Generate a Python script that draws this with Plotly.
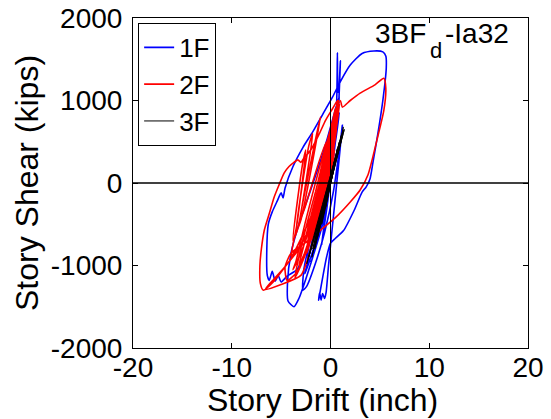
import plotly.graph_objects as go

# ---- data ----
drift_1f = [0.0, 0.3, -0.1, -0.6, -0.2, 0.5, 0.2, -0.9, -0.4, 0.6, 0.7, 0.75, 0.85, 1.0, 0.8,
            0.2, -0.8, -1.8, -2.6, -3.2, -3.7, -4.3, -4.35, -4.0, -3.2, -2.2, -1.2, -0.3, 0.4,
            0.9, 0.6, -0.4, -1.4, -2.4, -3.4, -4.4, -5.0, -5.3, -5.6, -5.9, -6.2, -6.4, -6.45,
            -6.3, -5.9, -5.4, -5.0, -4.8, -4.6, -3.8, -2.8, -1.8, -0.8, 0.2, 1.0, 2.0, 3.2,
            4.4, 5.3, 5.6, 5.65, 5.3, 4.8, 4.3, 4.0, 3.6, 3.2, 2.4, 1.3, 0.5, 0.0, -0.4, -0.8,
            -1.1, -1.2, -1.1, -0.95, -0.8, -0.6, -0.45, -0.2, 0.3, 0.8, 1.2, 1.0, 0.3, -0.6,
            -1.6, -2.4, -2.8, -2.7, -2.0, -1.0, 0.0, 0.6, 0.9, 0.5, -0.3, -1.2, -2.0, -2.3,
            -1.9, -1.0, -0.2, 0.4, 0.1, -0.5, -2.0, -2.6, -2.3, -1.0, 0.2, 0.6, 0.3, -0.6,
            -1.6, -1.4, -0.4, 0.5, 0.2, -1.0, -0.6, 0.0]
shear_1f = [0, 350, 50, -500, -150, 650, 300, -750, -300, 900, 1580, 1100, 1150, 1480, 900,
            200, -500, -900, -1200, -1400, -1500, -1430, -1200, -850, -500, -150, 200, 550, 850,
            1050, 750, 50, -450, -800, -1050, -1130, -1200, -1120, -1190, -1070, -1180, -1120, -800,
            -500, -350, -220, -120, -180, -60, 200, 430, 620, 830, 1040, 1230, 1430, 1570,
            1600, 1590, 1540, 1400, 1000, 600, 250, 50, -50, -110, -330, -580, -670, -730, -900, -1150,
            -1350, -1420, -1330, -1420, -1340, -1400, -1330, -1000, -400, 200, 700, 500, -100, -600,
            -1000, -1250, -1300, -1050, -650, -150, 350, 700, 850, 500, -100, -600, -950, -900,
            -550, -100, 300, 550, 300, -300, -900, -1100, -950, -200, 500, 900, 700, 0,
            -700, -600, 100, 700, 500, -500, -250, 0]

drift_2f = [0.0, 0.4, 0.1, -0.8, -0.4, 0.6, 0.3, -1.3, -0.8, 0.8, 0.5, -1.8, -1.3, 0.9, 0.6,
            -2.4, -2.0, 1.0, 1.2, 2.0, 3.0, 4.5, 5.4, 5.6, 5.4, 4.7, 3.8, 3.0, 2.0, 0.5, -1.0,
            -2.5, -4.0, -4.6, -4.4, -3.4, -2.2, -1.0, 0.0, 0.8, 0.4, -0.8, -2.0, -3.2, -4.5,
            -5.8, -6.8, -7.1, -7.15, -7.0, -6.7, -6.2, -5.7, -5.2, -4.7, -4.2, -3.7, -3.3, -3.0,
            -2.7, -2.0, -1.2, -0.5, 0.2, 0.7, 0.4, -0.5, -1.5, -2.5, -4.5, -6.0, -6.6, -5.0,
            -3.0, -2.0, -1.0, -0.2, 0.5, 0.9, 0.6, -0.3, -1.2, -2.2, -3.0, -3.6, -3.3, -2.4,
            -1.5, -0.6, 0.2, 0.6, 0.3, -0.6, -1.6, -2.4, -2.2, -1.4, -0.6, 0.1, 0.5, 0.2, -0.6,
            -2.8, -3.2, -2.9, -1.5, -0.2, 0.5, 0.3, -0.8, -2.0, -3.0, -3.8, -3.5, -2.5, -1.2,
            0.0, 0.8, 0.5, -0.5, -1.8, -2.6, -2.3, -1.0, 0.3, 0.6, 0.2, -1.0, -2.0, -1.7, -0.6,
            0.3, -1.0, -2.5, -4.0, -3.4, -2.5, -2.8, -3.8, -3.3, -1.8, -2.2, -3.5, -3.0, -1.0,
            -1.3, -3.2, -2.6, -0.4, 0.0]
shear_2f = [0, 400, 150, -400, -150, 650, 400, -550, -250, 850, 600, -700, -400, 950, 700,
            -800, -500, 1000, 920, 1000, 1090, 1190, 1270, 1150, 880, 520, 100, -85, -230, -420, -570,
            -720, -850, -1020, -1180, -1080, -700, -200, 400, 850, 600, -100, -500, -800, -1000,
            -1200, -1300, -1220, -1000, -800, -570, -370, -170, -20, 120, 200, 250, 280, 250,
            300, 400, 580, 760, 900, 1000, 800, 250, -250, -650, -1000, -1200, -1290, -1230,
            -1120, -800, -300, 200, 700, 950, 750, 200, -350, -750, -1000, -1150, -950, -500,
            -100, 350, 750, 900, 650, 50, -500, -850, -650, -250, 150, 550, 750, 500, -300,
            -900, -1000, -850, -200, 500, 900, 800, 100, -500, -850, -1050, -950, -450, 150,
            650, 1000, 850, 200, -450, -700, -550, 50, 650, 800, 550, -150, -500, -350, 200,
            600, -100, -550, -900, -500, 400, 250, -700, -550, 600, 450, -600, -450, 800,
            650, -500, -300, 500, 0]

drift_3f = [0.0, 0.4, 0.2, -0.5, -0.3, 0.7, 0.4, -0.9, -0.6, 0.9, 0.6, -1.3, -1.0, 1.1, 0.8,
            -1.6, -1.3, 1.2, 1.3, 1.0, -1.9, -1.5, 1.4, 1.1, -2.4, -2.0, 1.3, 1.0, -2.2, -1.8,
            1.1, 0.8, -1.8, -1.4, 0.9, 0.6, -1.4, -1.0, 0.7, 0.4, -0.9, -0.6, 0.4, 0.1, -0.3, 0.0]
shear_3f = [0, 250, 120, -300, -180, 380, 220, -500, -350, 480, 320, -650, -500, 560, 400,
            -800, -620, 620, 680, 480, -900, -700, 650, 520, -980, -780, 640, 470, -900, -720,
            580, 420, -800, -600, 500, 340, -650, -480, 420, 250, -450, -300, 250, 100, -150, 0]

series_names = ["1F", "2F", "3F"]
series_colors = ["#0000FF", "#FF0000", "#000000"]

x_ticks = [-20, -10, 0, 10, 20]
y_ticks = [-2000, -1000, 0, 1000, 2000]

FONT = "Arial, Liberation Sans, sans-serif"

fig = go.Figure()
for name, xs, ys, col, w in zip(series_names,
                                [drift_1f, drift_2f, drift_3f],
                                [shear_1f, shear_2f, shear_3f],
                                series_colors, [1.6, 1.6, 1.0]):
    fig.add_trace(go.Scatter(x=xs, y=ys, mode="lines", name=name,
                             line=dict(color=col, width=w, shape="spline", smoothing=0.6)))

# reference lines at x=0 and y=0, drawn above the data
fig.add_shape(type="line", xref="x", yref="paper", x0=0, x1=0, y0=0, y1=1,
              line=dict(color="black", width=1), layer="above")
fig.add_shape(type="line", xref="paper", yref="y", x0=0, x1=1, y0=0, y1=0,
              line=dict(color="black", width=1.4), layer="above")

axis_common = dict(showgrid=False, zeroline=False, showline=True, linecolor="black",
                   linewidth=1, mirror="ticks", ticks="inside", ticklen=5, automargin=False,
                   tickcolor="black", tickfont=dict(family=FONT, size=28, color="black"))
fig.update_xaxes(range=[-20, 20], tickvals=x_ticks, ticktext=[str(v) for v in x_ticks],
                 ticklabelstandoff=-6, **axis_common)
fig.update_yaxes(range=[-2000, 2000], tickvals=y_ticks, ticktext=[str(v) for v in y_ticks],
                 ticklabelstandoff=4, **axis_common)

title_font = dict(family=FONT, size=28, color="black")
fig.update_layout(
    width=551, height=419,
    margin=dict(l=133, r=23, t=18, b=71, autoexpand=False),
    paper_bgcolor="white", plot_bgcolor="white",
    font=dict(family=FONT, size=28, color="black"),
    showlegend=True,
    legend=dict(x=0.013, y=0.985, xanchor="left", yanchor="top",
                bgcolor="white", bordercolor="black", borderwidth=1,
                font=dict(family=FONT, size=26, color="black"),
                itemwidth=30, tracegroupgap=0),
    annotations=[
        dict(text="3BF", xref="paper", yref="paper", x=(428 - 133) / 395, y=(348 - 34) / 330,
             xanchor="right", yanchor="middle", showarrow=False, font=title_font),
        dict(text="d", xref="paper", yref="paper", x=(436 - 133) / 395, y=(348 - 51) / 330,
             xanchor="center", yanchor="middle", showarrow=False,
             font=dict(family=FONT, size=22, color="black")),
        dict(text="-Ia32", xref="paper", yref="paper", x=(443 - 133) / 395, y=(348 - 34) / 330,
             xanchor="left", yanchor="middle", showarrow=False, font=title_font),
        dict(text="Story Drift (inch)", xref="paper", yref="paper", x=(322 - 133) / 395,
             y=-(400 - 348) / 330, xanchor="center", yanchor="middle", showarrow=False,
             font=dict(family=FONT, size=32, color="black")),
        dict(text="Story Shear (kips)", xref="paper", yref="paper", x=(27 - 133) / 395, y=0.5,
             xanchor="center", yanchor="middle", showarrow=False, textangle=-90,
             font=dict(family=FONT, size=32, color="black")),
    ],
)

fig.write_html("out.html")
